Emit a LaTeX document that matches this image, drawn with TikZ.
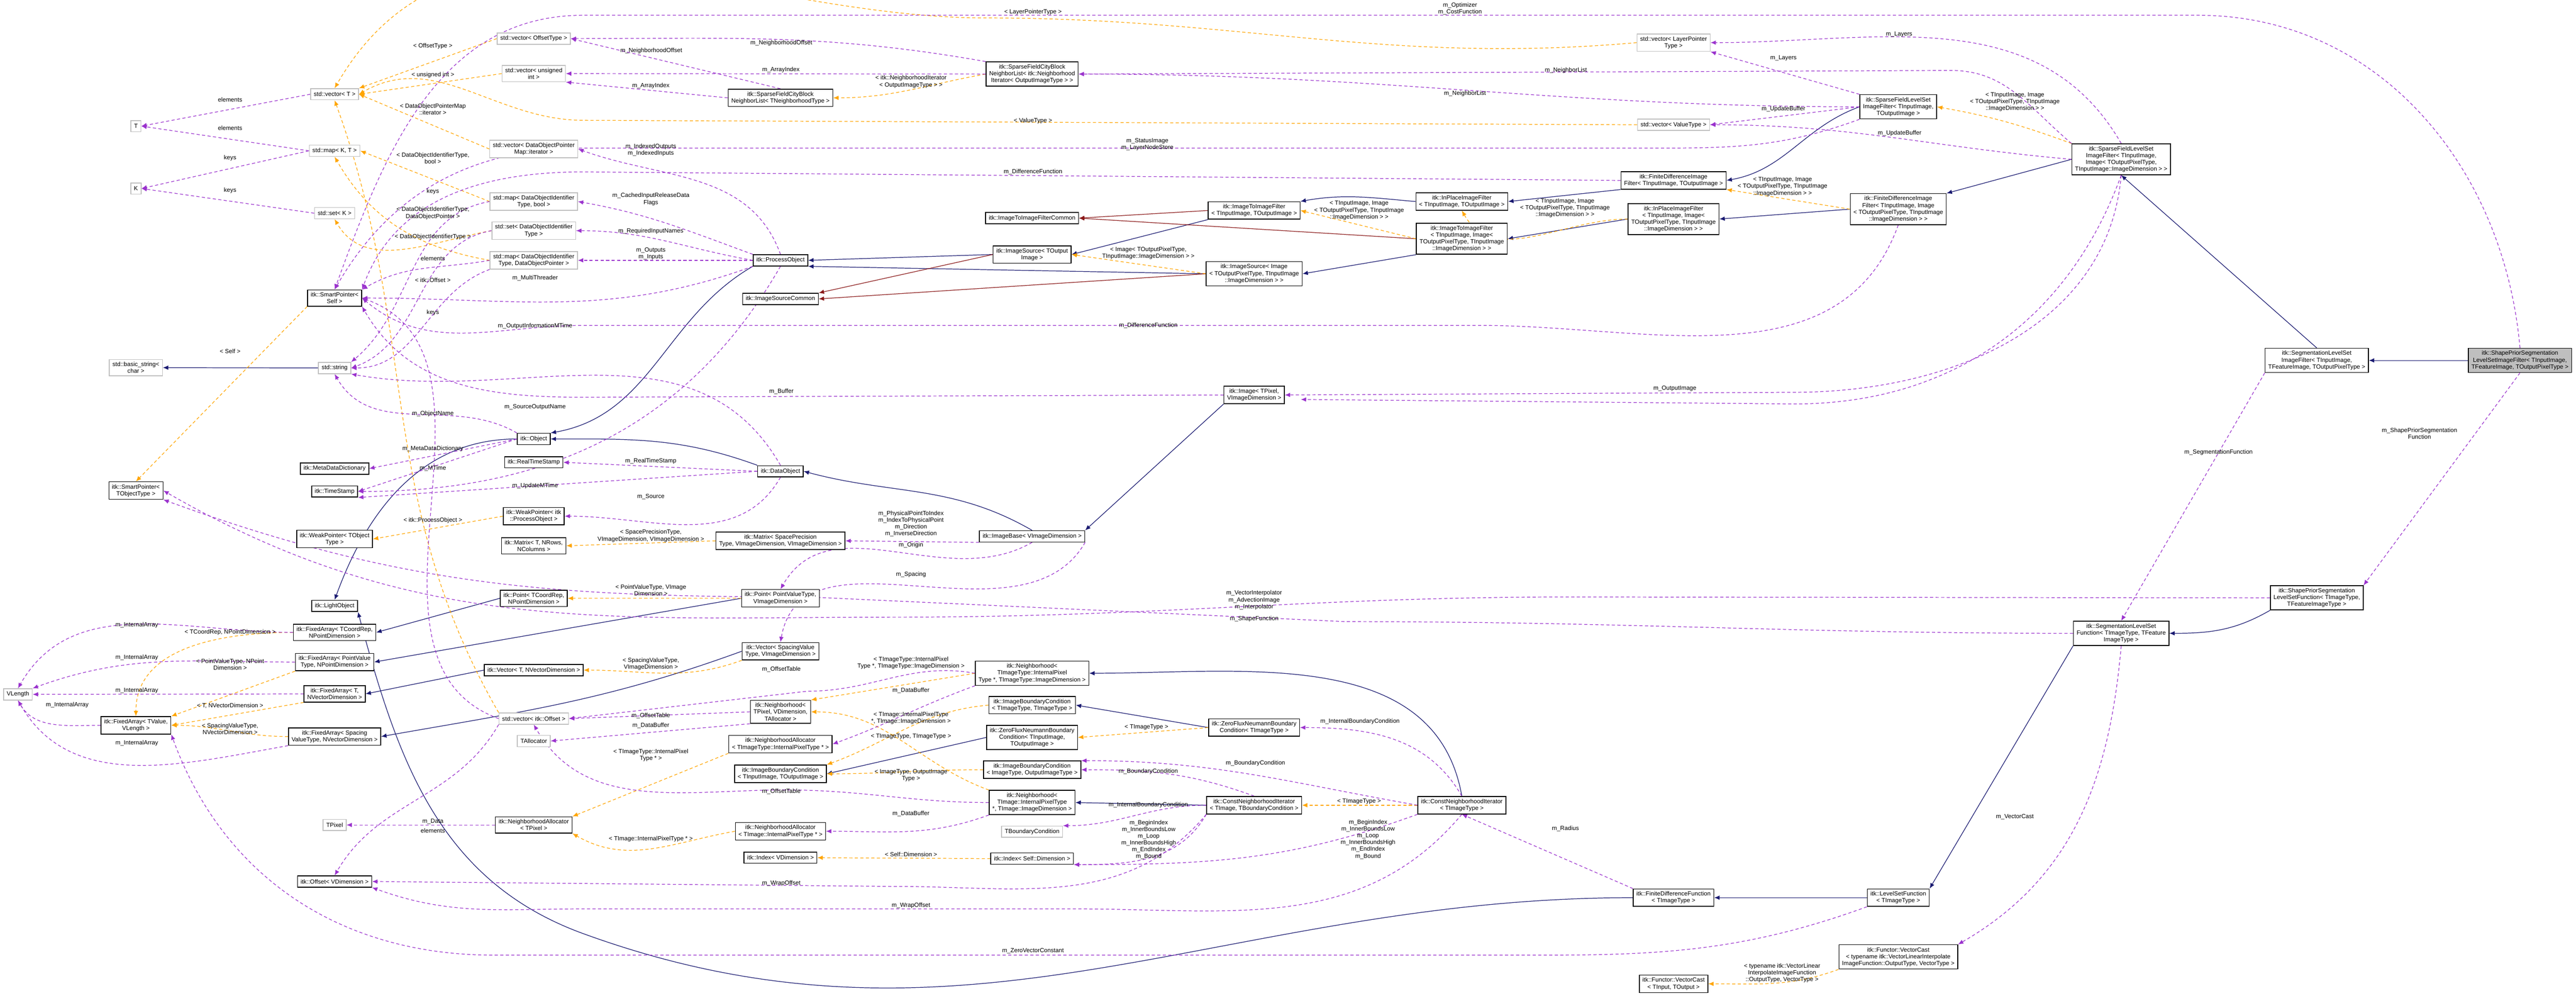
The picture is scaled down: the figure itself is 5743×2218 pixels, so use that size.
\documentclass[tikz,border=0pt]{standalone}
\usepackage{fontspec}
\newfontfamily\dxfam{Liberation Sans}
\newcommand\dxf{\dxfam\fontsize{3.8}{4.3}\selectfont}
\usetikzlibrary{arrows.meta}
\pgfdeclarelayer{bg}
\pgfsetlayers{bg,main}
\definecolor{cblue}{HTML}{191970}
\definecolor{cred}{HTML}{8B1A1A}
\definecolor{cpur}{HTML}{9A32CD}
\definecolor{corg}{HTML}{FFA500}
\tikzset{
 nd/.style={draw=black,line width=0.5pt,fill=white,font=\dxf,align=center,inner xsep=2pt,inner ysep=1.6pt,minimum height=0.25cm},
 gn/.style={nd,draw=black!25},
 lab/.style={font=\dxf,align=center,inner sep=0.3pt},
 tipk/.style={-{Latex[length=3.4pt,width=2.8pt]}},
 be/.style={tipk,draw=cblue,line width=0.4pt},
 re/.style={tipk,draw=cred,line width=0.4pt},
 oe/.style={tipk,draw=corg,line width=0.4pt,dash pattern=on 2pt off 1.5pt},
 pe/.style={tipk,draw=cpur,line width=0.4pt,dash pattern=on 2pt off 1.5pt},
}
\begin{document}
\begin{tikzpicture}[x=0.01cm,y=-0.01cm]
\useasboundingbox (0,0) rectangle (5743,2218);
% column A
\node[gn] (T) at (303,281) {T};
\node[gn] (K) at (303,420) {K};
\node[gn] (bstr) at (303,819) {std::basic\_string<\\char >};
\node[nd] (spT) at (303,1093) {itk::SmartPointer<\\TObjectType >};
\node[nd] (faTV) at (303,1616) {itk::FixedArray< TValue,\\VLength >};
\node[gn] (vl) at (40,1547) {VLength};
% column B
\node[gn] (vecT) at (746,210) {std::vector< T >};
\node[gn] (mapKT) at (746,336) {std::map< K, T >};
\node[gn] (setK) at (746,475) {std::set< K >};
\node[nd] (spS) at (746,664) {itk::SmartPointer<\\Self >};
\node[gn] (str) at (746,820) {std::string};
\node[nd] (mdd) at (746,1044) {itk::MetaDataDictionary};
\node[nd] (ts) at (746,1095) {itk::TimeStamp};
\node[nd] (wpT) at (746,1201) {itk::WeakPointer< TObject\\Type >};
\node[nd] (lo) at (746,1350) {itk::LightObject};
\node[nd] (faCR) at (746,1409) {itk::FixedArray< TCoordRep,\\NPointDimension >};
\node[nd] (faPV) at (746,1475) {itk::FixedArray< PointValue\\Type, NPointDimension >};
\node[nd] (faT) at (746,1546) {itk::FixedArray< T,\\NVectorDimension >};
\node[nd] (faSV) at (746,1641) {itk::FixedArray< Spacing\\ValueType, NVectorDimension >};
\node[gn] (tpix) at (746,1838) {TPixel};
\node[nd] (off) at (746,1964) {itk::Offset< VDimension >};
% column C
\node[gn] (vecOT) at (1190,86) {std::vector< OffsetType >};
\node[gn] (vecUI) at (1190,164) {std::vector< unsigned\\int >};
\node[gn] (vecIt) at (1190,332) {std::vector< DataObjectPointer\\Map::iterator >};
\node[gn] (mapB) at (1190,449) {std::map< DataObjectIdentifier\\Type, bool >};
\node[gn] (setD) at (1190,514) {std::set< DataObjectIdentifier\\Type >};
\node[gn] (mapP) at (1190,580) {std::map< DataObjectIdentifier\\Type, DataObjectPointer >};
\node[nd] (obj) at (1190,978) {itk::Object};
\node[nd] (rts) at (1190,1030) {itk::RealTimeStamp};
\node[nd] (wpP) at (1190,1150) {itk::WeakPointer< itk\\::ProcessObject >};
\node[nd] (mat) at (1190,1216) {itk::Matrix< T, NRows,\\NColumns >};
\node[nd] (ptCR) at (1190,1333) {itk::Point< TCoordRep,\\NPointDimension >};
\node[nd] (vecTN) at (1190,1493) {itk::Vector< T, NVectorDimension >};
\node[gn] (vecOff) at (1190,1601) {std::vector< itk::Offset >};
\node[gn] (tall) at (1190,1651) {TAllocator};
\node[nd] (naP) at (1190,1838) {itk::NeighborhoodAllocator\\< TPixel >};
% column D
\node[nd] (nlT) at (1740,218) {itk::SparseFieldCityBlock\\NeighborList< TNeighborhoodType >};
\node[nd] (po) at (1740,580) {itk::ProcessObject};
\node[nd] (isc) at (1740,666) {itk::ImageSourceCommon};
\node[nd] (dobj) at (1740,1050) {itk::DataObject};
\node[nd] (matS) at (1740,1205) {itk::Matrix< SpacePrecision\\Type, VImageDimension, VImageDimension >};
\node[nd] (ptPV) at (1740,1333) {itk::Point< PointValueType,\\VImageDimension >};
\node[nd] (vecSV) at (1740,1451) {itk::Vector< SpacingValue\\Type, VImageDimension >};
\node[nd] (nbP) at (1740,1586) {itk::Neighborhood<\\TPixel, VDimension,\\TAllocator >};
\node[nd] (naTT) at (1740,1658) {itk::NeighborhoodAllocator\\< TImageType::InternalPixelType * >};
\node[nd] (ibcIO) at (1740,1724) {itk::ImageBoundaryCondition\\< TInputImage, TOutputImage >};
\node[nd] (naTI) at (1740,1852) {itk::NeighborhoodAllocator\\< TImage::InternalPixelType * >};
\node[nd] (idxV) at (1740,1911) {itk::Index< VDimension >};
% column E
\node[nd] (nlNI) at (2301,165) {itk::SparseFieldCityBlock\\NeighborList< itk::Neighborhood\\Iterator< OutputImageType > >};
\node[nd] (itic) at (2301,486) {itk::ImageToImageFilterCommon};
\node[nd] (isT) at (2301,567) {itk::ImageSource< TOutput\\Image >};
\node[nd] (ib) at (2301,1195) {itk::ImageBase< VImageDimension >};
\node[nd] (nbTT) at (2301,1500) {itk::Neighborhood<\\TImageType::InternalPixel\\Type *, TImageType::ImageDimension >};
\node[nd] (ibcTT) at (2301,1571) {itk::ImageBoundaryCondition\\< TImageType, TImageType >};
\node[nd] (zfIO) at (2301,1643) {itk::ZeroFluxNeumannBoundary\\Condition< TInputImage,\\TOutputImage >};
\node[nd] (ibcOT) at (2301,1715) {itk::ImageBoundaryCondition\\< ImageType, OutputImageType >};
\node[nd] (nbTI) at (2301,1788) {itk::Neighborhood<\\TImage::InternalPixelType\\*, TImage::ImageDimension >};
\node[gn] (tbc) at (2301,1853) {TBoundaryCondition};
\node[nd] (idxS) at (2301,1913) {itk::Index< Self::Dimension >};
% column F
\node[nd] (itif) at (2796,469) {itk::ImageToImageFilter\\< TInputImage, TOutputImage >};
\node[nd] (isI) at (2796,610) {itk::ImageSource< Image\\< TOutputPixelType, TInputImage\\::ImageDimension > >};
\node[nd] (img) at (2796,880) {itk::Image< TPixel,\\VImageDimension >};
\node[nd] (zfT) at (2796,1621) {itk::ZeroFluxNeumannBoundary\\Condition< TImageType >};
\node[nd] (cniB) at (2796,1794) {itk::ConstNeighborhoodIterator\\< TImage, TBoundaryCondition >};
% column G
\node[nd] (ipf) at (3259,449) {itk::InPlaceImageFilter\\< TInputImage, TOutputImage >};
\node[nd] (itifI) at (3259,532) {itk::ImageToImageFilter\\< TInputImage, Image<\\TOutputPixelType, TInputImage\\::ImageDimension > >};
\node[nd] (cniT) at (3259,1794) {itk::ConstNeighborhoodIterator\\< TImageType >};
% column H
\node[gn] (vecLP) at (3731,95) {std::vector< LayerPointer\\Type >};
\node[gn] (vecVT) at (3731,278) {std::vector< ValueType >};
\node[nd] (fdif) at (3731,402) {itk::FiniteDifferenceImage\\Filter< TInputImage, TOutputImage >};
\node[nd] (ipfI) at (3731,488) {itk::InPlaceImageFilter\\< TInputImage, Image<\\TOutputPixelType, TInputImage\\::ImageDimension > >};
\node[nd] (fdf) at (3731,2000) {itk::FiniteDifferenceFunction\\< TImageType >};
\node[nd] (vcIO) at (3731,2192) {itk::Functor::VectorCast\\< TInput, TOutput >};
% column I
\node[nd] (sfls) at (4232,238) {itk::SparseFieldLevelSet\\ImageFilter< TInputImage,\\TOutputImage >};
\node[nd] (fdifI) at (4232,466) {itk::FiniteDifferenceImage\\Filter< TInputImage, Image\\< TOutputPixelType, TInputImage\\::ImageDimension > >};
\node[nd] (lsf) at (4232,2000) {itk::LevelSetFunction\\< TImageType >};
\node[nd] (vcT) at (4232,2132) {itk::Functor::VectorCast\\< typename itk::VectorLinearInterpolate\\ImageFunction::OutputType, VectorType >};
% column J,K,L
\node[nd] (sflsI) at (4729,355) {itk::SparseFieldLevelSet\\ImageFilter< TInputImage,\\Image< TOutputPixelType,\\TInputImage::ImageDimension > >};
\node[nd] (seglsf) at (4729,1411) {itk::SegmentationLevelSet\\Function< TImageType, TFeature\\ImageType >};
\node[nd] (seglsif) at (5165,803) {itk::SegmentationLevelSet\\ImageFilter< TInputImage,\\TFeatureImage, TOutputPixelType >};
\node[nd] (splsf) at (5165,1332) {itk::ShapePriorSegmentation\\LevelSetFunction< TImageType,\\TFeatureImageType >};
\node[nd,fill=black!25] (splsif) at (5618,803) {itk::ShapePriorSegmentation\\LevelSetImageFilter< TInputImage,\\TFeatureImage, TOutputPixelType >};

\begin{pgfonlayer}{bg}
% inheritance
\draw[be] (str) -- (bstr);
\draw[be] (obj.west) to[out=180,in=70] (lo.north);
\draw[be] (po.south west) to[out=210,in=10] (obj.north east);
\draw[be] (dobj.north west) to[out=160,in=0] (obj.east);
\draw[be] (ib.north) to[out=150,in=-15] (dobj.east);
\draw[be] (img.south west) -- (ib.north east);
\draw[be] (isT.west) -- (po.east);
\draw[be] (isI.west) -- (po.south east);
\draw[be] (itif.south west) -- (isT.east);
\draw[be] (itifI.south west) -- (isI.east);
\draw[be] (ipf.west) to[out=175,in=10] (itif.north east);
\draw[be] (ipfI.west) -- (itifI.east);
\draw[be] (fdif.south west) -- (ipf.east);
\draw[be] (fdifI.west) -- (ipfI.east);
\draw[be] (sfls.west) to[out=200,in=10] (fdif.east);
\draw[be] (sflsI.west) -- (fdifI.north east);
\draw[be] (seglsif.north) -- (sflsI.south);
\draw[be] (splsif) -- (seglsif);
\draw[be] (ptCR.west) -- (faCR.east);
\draw[be] (ptPV.west) -- (faPV.east);
\draw[be] (vecTN.west) -- (faT.east);
\draw[be] (vecSV.west) to[out=200,in=10] (faSV.east);
\draw[be] (zfT.west) -- (ibcTT.east);
\draw[be] (zfIO.west) -- (ibcIO.east);
\draw[be] (cniB.west) -- (nbTI.east);
\draw[be] (cniT.north) to[out=100,in=0] (nbTT.east);
\draw[be] (fdf.west) to[out=180,in=-20] (1300,2080) to[out=160,in=-75] (lo.south east);
\draw[be] (lsf) -- (fdf);
\draw[be] (seglsf.south west) -- (lsf.north east);
\draw[be] (splsf.south west) to[out=210,in=0] (seglsf.east);
% red
\draw[re] (isT.west) -- (isc.north east);
\draw[re] (isI.west) -- (isc.east);
\draw[re] (itif.west) -- (itic.east);
\draw[re] (itifI.west) -- (itic.east);
% orange template
\draw[oe] (isI.west) -- (isT.east);
\draw[oe] (itifI.west) -- (itif.east);
\draw[oe] (ipfI.west) to[out=180,in=-60] (ipf.south);
\draw[oe] (fdifI.west) -- (fdif.south east);
\draw[oe] (sflsI.north west) to[out=160,in=-10] (sfls.east);
\draw[oe] (nlNI.west) to[out=190,in=0] (nlT.east);
\draw[oe] (vecOT.west) -- (vecT.north east);
\draw[oe] (vecUI.west) -- (vecT.east);
\draw[oe] (vecIt.west) -- (vecT.east);
\draw[oe] (vecLP.west) to[out=185,in=0] (2200,40) to[out=180,in=60] (vecT.north);
\draw[oe] (vecVT.west) -- (1300,268) to[out=180,in=30] (vecT.east);
\draw[oe] (vecOff.north west) to[out=120,in=-70] (vecT.south);
\draw[oe] (mapB.west) -- (mapKT.east);
\draw[oe] (mapP.west) to[out=170,in=-60] (mapKT.south);
\draw[oe] (setD.west) to[out=190,in=-60] (setK.south);
\draw[oe] (spS.south west) -- (spT.north);
\draw[oe] (wpP.west) -- (wpT.east);
\draw[oe] (matS.west) -- (mat.east);
\draw[oe] (ptPV.west) -- (ptCR.east);
\draw[oe] (vecSV.south west) to[out=200,in=0] (vecTN.east);
\draw[oe] (faCR.west) to[out=180,in=90] (faTV.north);
\draw[oe] (faPV.south west) -- (faTV.north east);
\draw[oe] (faT.south west) -- (faTV.east);
\draw[oe] (faSV.west) to[out=180,in=0] (faTV.east);
\draw[oe] (nbTT.west) -- (nbP.north east);
\draw[oe] (nbTI.north west) to[out=160,in=0] (nbP.east);
\draw[oe] (naTT.south west) -- (naP.north east);
\draw[oe] (naTI.west) to[out=190,in=-30] (naP.south east);
\draw[oe] (ibcTT.west) to[out=185,in=20] (ibcIO.north east);
\draw[oe] (ibcOT.west) to[out=180,in=0] (ibcIO.east);
\draw[oe] (zfT.west) -- (zfIO.east);
\draw[oe] (cniT) -- (cniB);
\draw[oe] (idxS.west) -- (idxV.east);
\draw[oe] (vcT.south west) to[out=200,in=0] (vcIO.east);
% purple members
\draw[pe] (vecT.west) -- (T.east);
\draw[pe] (mapKT.west) -- (T.east);
\draw[pe] (mapKT.west) -- (K.east);
\draw[pe] (setK.west) -- (K.east);
\draw[pe] (faTV.west) to[out=180,in=-60] (vl.south);
\draw[pe] (faCR.west) to[out=180,in=60] (vl.north);
\draw[pe] (faPV.west) to[out=180,in=20] (vl.north east);
\draw[pe] (faT.west) -- (vl.east);
\draw[pe] (faSV.south west) to[out=190,in=-60] (vl.south);
\draw[pe] (nlT.north) -- (vecOT.east);
\draw[pe] (nlT.west) -- (vecUI.south east);
\draw[pe] (nlNI.north west) to[out=170,in=0] (vecOT.east);
\draw[pe] (nlNI.west) -- (vecUI.east);
\draw[pe] (sfls.north west) -- (vecLP.south east);
\draw[pe] (sflsI.north) to[out=120,in=0] (vecLP.east);
\draw[pe] (sfls.west) to[out=180,in=0] (nlNI.east);
\draw[pe] (sflsI.north west) to[out=140,in=0] (4350,157) -- (nlNI.east);
\draw[pe] (sfls.west) -- (vecVT.east);
\draw[pe] (sflsI.west) to[out=175,in=0] (vecVT.east);
\draw[pe] (sfls.south west) to[out=200,in=0] (3700,330) -- (1300,330) to[out=180,in=60] (spS.north);
\draw[pe] (sflsI.south) to[out=-110,in=0] (4000,900) -- (2900,890);
\draw[pe] (fdif.west) -- (1300,383) to[out=180,in=70] (spS.north east);
\draw[pe] (fdifI.south) to[out=-110,in=0] (3300,725) -- (1300,725) to[out=180,in=-40] (spS.east);
\draw[pe] (splsif.north) to[out=95,in=0] (4900,34) -- (1300,34) to[out=180,in=70] (spS.north);
\draw[pe] (sflsI.south) to[out=-95,in=0] (4000,874) -- (img.east);
\draw[pe] (img.west) -- (1300,885) to[out=180,in=-60] (spS.south east);
\draw[pe] (po.north) to[out=110,in=-20] (vecIt.east);
\draw[pe] (po.north west) to[out=160,in=-10] (mapB.east);
\draw[pe] (po.west) to[out=170,in=0] (setD.east);
\draw[pe] (po.west) -- (mapP.east);
\draw[pe] (po.south west) to[out=200,in=0] (spS.east);
\draw[pe] (po.south) to[out=-120,in=0] (ts.east);
\draw[pe] (mapB.west) to[out=190,in=40] (str.north east);
\draw[pe] (setD.west) to[out=190,in=20] (str.east);
\draw[pe] (mapP.west) to[out=190,in=30] (spS.north east);
\draw[pe] (mapP.south west) to[out=200,in=0] (str.east);
\draw[pe] (vecOff.west) to[out=160,in=-20] (spS.east);
\draw[pe] (obj.north west) to[out=150,in=-60] (str.south);
\draw[pe] (obj.west) -- (mdd.east);
\draw[pe] (obj.west) -- (ts.east);
\draw[pe] (dobj.west) -- (rts.east);
\draw[pe] (dobj.west) -- (ts.south east);
\draw[pe] (dobj.south) to[out=-120,in=0] (wpP.east);
\draw[pe] (dobj.north) to[out=120,in=-10] (str.south east);
\draw[pe] (ib.south west) -- (matS.east);
\draw[pe] (ib.south) to[out=-150,in=60] (ptPV.north);
\draw[pe] (ib.south east) to[out=-120,in=80] (vecSV.north);
\draw[pe] (nbP.west) -- (vecOff.east);
\draw[pe] (nbP.south west) -- (tall.east);
\draw[pe] (nbTT.west) to[out=170,in=0] (1800,1540) -- (vecOff.east);
\draw[pe] (nbTT.south west) to[out=200,in=20] (naTT.east);
\draw[pe] (nbTI.west) to[out=180,in=0] (1750,1760) to[out=180,in=-60] (vecOff.south);
\draw[pe] (nbTI.south west) to[out=200,in=0] (naTI.east);
\draw[pe] (vecOff.south west) to[out=240,in=60] (off.north);
\draw[pe] (naP.west) -- (tpix.east);
\draw[pe] (cniB.north) to[out=160,in=0] (ibcOT.east);
\draw[pe] (cniT.west) to[out=170,in=0] (ibcOT.north east);
\draw[pe] (cniB.west) to[out=180,in=0] (tbc.north east);
\draw[pe] (cniT.north) to[out=120,in=0] (zfT.east);
\draw[pe] (cniB.south west) to[out=240,in=0] (idxS.south east);
\draw[pe] (cniT.south west) to[out=200,in=0] (idxS.south east);
\draw[pe] (cniB.south west) to[out=230,in=0] (2000,1975) -- (off.east);
\draw[pe] (cniT.south) to[out=-130,in=0] (2400,2025) -- (1300,2025) to[out=180,in=-20] (off.south east);
\draw[pe] (fdf.north west) -- (cniT.south);
\draw[pe] (lsf.south west) to[out=200,in=0] (3300,2128) -- (1100,2128) to[out=180,in=-70] (faTV.south east);
\draw[pe] (seglsf.south) to[out=-95,in=30] (vcT.north east);
\draw[pe] (seglsif.south west) -- (seglsf.north);
\draw[pe] (splsif.south) -- (splsf.north east);
\draw[pe] (seglsf.west) to[out=180,in=0] (3000,1385) -- (1800,1330) to[out=180,in=-20] (spT.south east);
\draw[pe] (splsf.west) -- (3500,1330) to[out=180,in=0] (2000,1375) to[out=180,in=-30] (spT.east);
\end{pgfonlayer}

% labels
\foreach \t/\x/\y in {elements/513/222, elements/513/285, keys/513/352, keys/513/424, keys/965/427, elements/965/576, keys/965/697, elements/965/1851}
  \node[lab] at (\x,\y) {\t};
\node[lab] at (965,103) {< OffsetType >};
\node[lab] at (965,167) {< unsigned int >};
\node[lab] at (965,243) {< DataObjectPointerMap\\::iterator >};
\node[lab] at (965,352) {< DataObjectIdentifierType,\\bool >};
\node[lab] at (965,475) {< DataObjectIdentifierType,\\DataObjectPointer >};
\node[lab] at (965,528) {< DataObjectIdentifierType >};
\node[lab] at (965,624) {< itk::Offset >};
\node[lab] at (1742,96) {m\_NeighborhoodOffset};
\node[lab] at (1452,113) {m\_NeighborhoodOffset};
\node[lab] at (1741,156) {m\_ArrayIndex};
\node[lab] at (1451,191) {m\_ArrayIndex};
\node[lab] at (2031,182) {< itk::NeighborhoodIterator\\< OutputImageType > >};
\node[lab] at (1451,334) {m\_IndexedOutputs\\m\_IndexedInputs};
\node[lab] at (1451,444) {m\_CachedInputReleaseData\\Flags};
\node[lab] at (1451,515) {m\_RequiredInputNames};
\node[lab] at (1451,565) {m\_Outputs\\m\_Inputs};
\node[lab] at (1193,620) {m\_MultiThreader};
\node[lab] at (1193,727) {m\_OutputInformationMTime};
\node[lab] at (2303,27) {< LayerPointerType >};
\node[lab] at (3255,19) {m\_Optimizer\\m\_CostFunction};
\node[lab] at (2303,269) {< ValueType >};
\node[lab] at (2558,322) {m\_StatusImage\\m\_LayerNodeStore};
\node[lab] at (2303,383) {m\_DifferenceFunction};
\node[lab] at (3266,209) {m\_NeighborList};
\node[lab] at (3491,157) {m\_NeighborList};
\foreach \x/\y in {3030/469, 3974/416, 3489/464, 4492/227}
  \node[lab] at (\x,\y) {< TInputImage, Image\\< TOutputPixelType, TInputImage\\::ImageDimension > >};
\node[lab] at (2560,564) {< Image< TOutputPixelType,\\TInputImage::ImageDimension > >};
\node[lab] at (2560,725) {m\_DifferenceFunction};
\node[lab] at (4234,77) {m\_Layers};
\node[lab] at (3976,129) {m\_Layers};
\node[lab] at (3976,243) {m\_UpdateBuffer};
\node[lab] at (4235,297) {m\_UpdateBuffer};
\node[lab] at (5394,966) {m\_ShapePriorSegmentation\\Function};
\node[lab] at (4946,1008) {m\_SegmentationFunction};
\node[lab] at (4492,1820) {m\_VectorCast};
\node[lab] at (513,783) {< Self >};
\node[lab] at (965,922) {m\_ObjectName};
\node[lab] at (965,1000) {m\_MetaDataDictionary};
\node[lab] at (965,1043) {m\_MTime};
\node[lab] at (965,1159) {< itk::ProcessObject >};
\node[lab] at (305,1393) {m\_InternalArray};
\node[lab] at (513,1409) {< TCoordRep, NPointDimension >};
\node[lab] at (305,1465) {m\_InternalArray};
\node[lab] at (513,1480) {< PointValueType, NPoint\\Dimension >};
\node[lab] at (305,1539) {m\_InternalArray};
\node[lab] at (150,1571) {m\_InternalArray};
\node[lab] at (513,1572) {< T, NVectorDimension >};
\node[lab] at (513,1624) {< SpacingValueType,\\NVectorDimension >};
\node[lab] at (305,1656) {m\_InternalArray};
\node[lab] at (965,1831) {m\_Data};
\node[lab] at (1742,872) {m\_Buffer};
\node[lab] at (1193,907) {m\_SourceOutputName};
\node[lab] at (1451,1027) {m\_RealTimeStamp};
\node[lab] at (1193,1083) {m\_UpdateMTime};
\node[lab] at (1451,1107) {m\_Source};
\node[lab] at (2031,1167) {m\_PhysicalPointToIndex\\m\_IndexToPhysicalPoint\\m\_Direction\\m\_InverseDirection};
\node[lab] at (2031,1215) {m\_Origin};
\node[lab] at (1451,1194) {< SpacePrecisionType,\\VImageDimension, VImageDimension >};
\node[lab] at (2031,1280) {m\_Spacing};
\node[lab] at (1451,1315) {< PointValueType, VImage\\Dimension >};
\node[lab] at (1451,1479) {< SpacingValueType,\\VImageDimension >};
\node[lab] at (1742,1491) {m\_OffsetTable};
\node[lab] at (2031,1477) {< TImageType::InternalPixel\\Type *, TImageType::ImageDimension >};
\node[lab] at (1451,1595) {m\_OffsetTable};
\node[lab] at (1451,1616) {m\_DataBuffer};
\node[lab] at (2031,1539) {m\_DataBuffer};
\node[lab] at (2031,1600) {< TImage::InternalPixelType\\*, TImage::ImageDimension >};
\node[lab] at (2031,1641) {< TImageType, TImageType >};
\node[lab] at (1451,1683) {< TImageType::InternalPixel\\Type * >};
\node[lab] at (2031,1728) {< ImageType, OutputImage\\Type >};
\node[lab] at (1742,1764) {m\_OffsetTable};
\node[lab] at (2031,1813) {m\_DataBuffer};
\node[lab] at (1451,1869) {< TImage::InternalPixelType * >};
\node[lab] at (2031,1904) {< Self::Dimension >};
\node[lab] at (1742,1968) {m\_WrapOffset};
\node[lab] at (2031,2017) {m\_WrapOffset};
\node[lab] at (2796,1337) {m\_VectorInterpolator\\m\_AdvectionImage\\m\_Interpolator};
\node[lab] at (2796,1379) {m\_ShapeFunction};
\node[lab] at (2556,1620) {< TImageType >};
\node[lab] at (3032,1608) {m\_InternalBoundaryCondition};
\node[lab] at (2799,1700) {m\_BoundaryCondition};
\node[lab] at (2560,1719) {m\_BoundaryCondition};
\node[lab] at (2560,1794) {m\_InternalBoundaryCondition};
\node[lab] at (3030,1786) {< TImageType >};
\node[lab] at (2561,1871) {m\_BeginIndex\\m\_InnerBoundsLow\\m\_Loop\\m\_InnerBoundsHigh\\m\_EndIndex\\m\_Bound};
\node[lab] at (3050,1870) {m\_BeginIndex\\m\_InnerBoundsLow\\m\_Loop\\m\_InnerBoundsHigh\\m\_EndIndex\\m\_Bound};
\node[lab] at (2303,2119) {m\_ZeroVectorConstant};
\node[lab] at (3490,1846) {m\_Radius};
\node[lab] at (3973,2168) {< typename itk::VectorLinear\\InterpolateImageFunction\\::OutputType, VectorType >};
\node[lab] at (3734,866) {m\_OutputImage};
\end{tikzpicture}
\end{document}
